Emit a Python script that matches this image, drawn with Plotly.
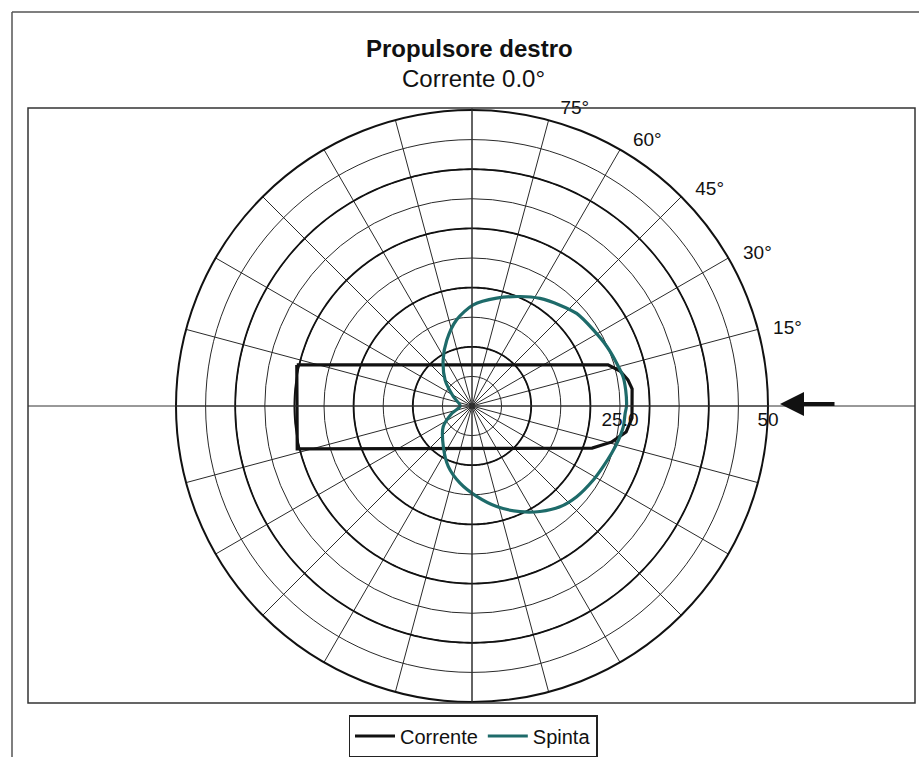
import numpy as np
import plotly.graph_objects as go

# ---------------- data ----------------
SPINTA_THETA = [0, 5.9, 11.0, 16.4, 23.8, 32.1, 41.5, 48.9, 57.7, 66.3, 77.1, 89.3,
                100.1, 111.0, 122.0, 136.1, 153.6, 180.0, 200.0, 215.8, 234.8, 248.7,
                261.2, 273.0, 283.8, 294.4, 302.8, 311.1, 319.1, 328.6, 335.2, 341.3,
                346.9, 352.2, 357.3, 360.0]
SPINTA_R = [26.1, 26.1, 26.0, 25.5, 24.9, 24.2, 23.6, 22.6, 21.5, 20.2, 18.7, 17.1,
            14.8, 11.9, 9.2, 6.3, 3.5, 2.0, 3.6, 6.0, 8.4, 11.0,
            13.2, 15.3, 17.5, 19.6, 21.2, 22.6, 23.4, 24.0, 24.4, 24.9,
            25.4, 25.8, 25.9, 26.1]

CORRENTE_THETA = [166.8, 16.8, 13.3, 9.5, 6.1, 355.7, 350.4, 345.6, 340.7, 193.8, 166.8]
CORRENTE_R = [30.4, 24.0, 25.7, 26.7, 27.2, 27.1, 26.4, 24.4, 21.5, 30.4, 30.4]

RADIAL_TICKS = [5, 10, 15, 20, 25, 30, 35, 40, 45, 50]
RADIAL_LABELS = ["", "", "", "", "25.0", "", "", "", "", "50"]
MAJOR_RINGS = [10, 20, 30, 40]
ANGLE_TICKS = list(range(0, 360, 15))
ANGLE_LABELED = {15: "15°", 30: "30°", 45: "45°", 60: "60°", 75: "75°"}
ANGLE_LABELS = [("\u00a0\u00a0" + ANGLE_LABELED[a]) if a in ANGLE_LABELED else ""
                for a in ANGLE_TICKS]

TITLE = "Propulsore destro"
SUBTITLE = "Corrente 0.0°"
SERIES_NAMES = ["Corrente", "Spinta"]

# ---------------- layout geometry (window pixels) ----------------
W, H = 919, 757
CX, CY, RAD = 472, 406, 296
BOX = (28, 108, 915, 703)

def px(x):
    return x / W

def py(y):
    return 1 - y / H

FONT = "Liberation Sans, Arial, Helvetica, sans-serif"
TEAL = "#1e6b6a"

fig = go.Figure()

ring_theta = np.linspace(0, 360, 361)
for rr in MAJOR_RINGS:
    fig.add_trace(go.Scatterpolar(r=[rr] * len(ring_theta), theta=ring_theta, mode="lines",
                                  line=dict(color="#111111", width=1.8),
                                  hoverinfo="skip", showlegend=False))

fig.add_trace(go.Scatterpolar(r=CORRENTE_R, theta=CORRENTE_THETA, mode="lines",
                              name=SERIES_NAMES[0],
                              line=dict(color="#111111", width=3.2)))
fig.add_trace(go.Scatterpolar(r=SPINTA_R, theta=SPINTA_THETA, mode="lines",
                              name=SERIES_NAMES[1],
                              line=dict(color=TEAL, width=3.2, shape="spline", smoothing=0.8)))

fig.update_layout(
    width=W, height=H, autosize=False,
    margin=dict(l=0, r=0, t=0, b=0),
    paper_bgcolor="white",
    font=dict(family=FONT, color="#111111"),
    polar=dict(
        domain=dict(x=[px(CX - RAD), px(CX + RAD)], y=[py(CY + RAD), py(CY - RAD)]),
        bgcolor="white",
        radialaxis=dict(range=[0, 50], tickvals=RADIAL_TICKS, ticktext=RADIAL_LABELS,
                        angle=0, showline=False, ticks="", gridcolor="#2a2a2a",
                        gridwidth=1, tickfont=dict(size=19, family=FONT, color="#111111")),
        angularaxis=dict(tickvals=ANGLE_TICKS, ticktext=ANGLE_LABELS, ticks="",
                         rotation=0, direction="counterclockwise",
                         showline=True, linecolor="#111111", linewidth=2,
                         gridcolor="#2a2a2a", gridwidth=1,
                         tickfont=dict(size=19, family=FONT, color="#111111")),
    ),
    showlegend=True,
    legend=dict(orientation="h", x=px(473), xanchor="center", y=0, yanchor="bottom",
                bordercolor="#222222", borderwidth=1.5, bgcolor="white",
                font=dict(size=20, family=FONT), itemwidth=40, tracegroupgap=0),
    annotations=[
        dict(text="<b>" + TITLE + "</b>", x=px(470), y=py(48), xref="paper", yref="paper",
             showarrow=False, font=dict(size=24, family=FONT, color="#111111"),
             xanchor="center", yanchor="middle"),
        dict(text=SUBTITLE, x=px(473), y=py(78), xref="paper", yref="paper",
             showarrow=False, font=dict(size=24, family=FONT, color="#111111"),
             xanchor="center", yanchor="middle"),
        dict(text="", x=px(780), y=py(404), xref="paper", yref="paper",
             showarrow=True, ax=56, ay=0, arrowhead=2, arrowsize=1.2, arrowwidth=4,
             arrowcolor="#111111", standoff=0),
    ],
    shapes=[
        # outer frame
        dict(type="line", xref="paper", yref="paper", x0=px(12), x1=px(12), y0=0, y1=py(12),
             line=dict(color="#555555", width=1.5)),
        dict(type="line", xref="paper", yref="paper", x0=px(12), x1=1, y0=py(12), y1=py(12),
             line=dict(color="#555555", width=1.5)),
        # plot box
        dict(type="rect", xref="paper", yref="paper", x0=px(BOX[0]), x1=px(BOX[2]),
             y0=py(BOX[3]), y1=py(BOX[1]), line=dict(color="#333333", width=1.5)),
        # axes through centre
        dict(type="line", xref="paper", yref="paper", x0=px(BOX[0]), x1=px(BOX[2]),
             y0=py(CY), y1=py(CY), line=dict(color="#333333", width=1)),
        dict(type="line", xref="paper", yref="paper", x0=px(CX), x1=px(CX),
             y0=py(BOX[3]), y1=py(BOX[1]), line=dict(color="#333333", width=1)),
    ],
)

fig.write_html(
    "out.html",
    config={"displayModeBar": False},
    post_script="document.body.style.margin='0px';document.body.style.overflow='hidden';",
)
